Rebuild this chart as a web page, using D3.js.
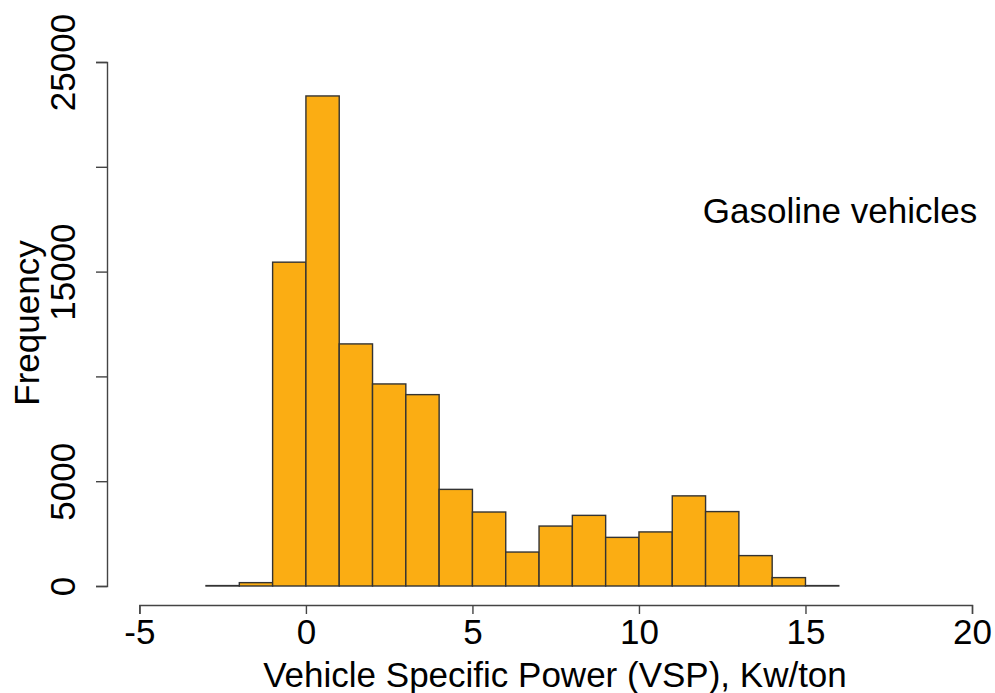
<!DOCTYPE html>
<html>
<head>
<meta charset="utf-8">
<script src="https://cdn.jsdelivr.net/npm/d3@7"></script>
<style>
  html, body { margin: 0; padding: 0; background: #fff; }
  svg { display: block; }
  text { font-family: "Liberation Sans", Arial, Helvetica, sans-serif; fill: #000; }
</style>
</head>
<body>
<svg id="chart" width="995" height="693"></svg>
<script>
// Histogram bins (VSP, Kw/ton) and frequencies
const binStarts = [-3, -2, -1, 0, 1, 2, 3, 4, 5, 6, 7, 8, 9, 10, 11, 12, 13, 14, 15];
const binWidth = 1;
const frequencies = [20, 160, 15450, 23380, 11550, 9640, 9130, 4610, 3530, 1620, 2860, 3370, 2320, 2580, 4300, 3550, 1450, 400, 20];
const xTicks = [-5, 0, 5, 10, 15, 20];
const yTicks = [0, 5000, 10000, 15000, 20000, 25000];
const yTickLabels = ["0", "5000", "", "15000", "", "25000"];
const xTitle = "Vehicle Specific Power (VSP), Kw/ton";
const yTitle = "Frequency";
const annotation = "Gasoline vehicles";

const svg = d3.select("#chart");
const x = d3.scaleLinear().domain([-5, 20]).range([139.4, 972]);
const y = d3.scaleLinear().domain([0, 25000]).range([586, 62]);

const bins = binStarts.map((s, i) => ({ x0: s, x1: s + binWidth, n: frequencies[i] }));

svg.append("g").selectAll("rect").data(bins).enter().append("rect")
  .attr("x", d => x(d.x0))
  .attr("y", d => y(d.n))
  .attr("width", d => x(d.x1) - x(d.x0))
  .attr("height", d => y(0) - y(d.n))
  .attr("fill", "#FBAD13")
  .attr("stroke", "#333")
  .attr("stroke-width", 1.4);

// X axis
const xAxis = svg.append("g").attr("transform", "translate(0,605)")
  .call(d3.axisBottom(x).tickValues(xTicks).tickSize(9).tickPadding(5).tickFormat(d => String(d)));
xAxis.select(".domain").attr("stroke", "#444").attr("stroke-width", 1.4);
xAxis.selectAll(".tick line").attr("stroke", "#444").attr("stroke-width", 1.4);
xAxis.selectAll(".tick text").style("font-size", "35px").attr("fill", "#000")
  .style("font-family", "'Liberation Sans', Arial, sans-serif");

// Y axis
const yAxis = svg.append("g").attr("transform", "translate(107,0)")
  .call(d3.axisLeft(y).tickValues(yTicks).tickSize(11).tickFormat((d, i) => yTickLabels[i]));
yAxis.select(".domain").attr("stroke", "#444").attr("stroke-width", 1.4);
yAxis.selectAll(".tick line").attr("stroke", "#444").attr("stroke-width", 1.4);
yAxis.selectAll(".tick text")
  .attr("x", null).attr("dy", null)
  .attr("transform", "translate(-32,0) rotate(-90)")
  .attr("text-anchor", "middle")
  .attr("dominant-baseline", "auto")
  .attr("y", 0)
  .style("font-size", "35px").attr("fill", "#000")
  .style("font-family", "'Liberation Sans', Arial, sans-serif");

// Titles
svg.append("text")
  .attr("x", 555).attr("y", 687)
  .attr("text-anchor", "middle")
  .style("font-size", "35px")
  .text(xTitle);

svg.append("text")
  .attr("transform", "translate(39,323) rotate(-90)")
  .attr("text-anchor", "middle")
  .style("font-size", "35px")
  .text(yTitle);

svg.append("text")
  .attr("x", 840).attr("y", 223)
  .attr("text-anchor", "middle")
  .style("font-size", "35px")
  .text(annotation);
</script>
</body>
</html>
